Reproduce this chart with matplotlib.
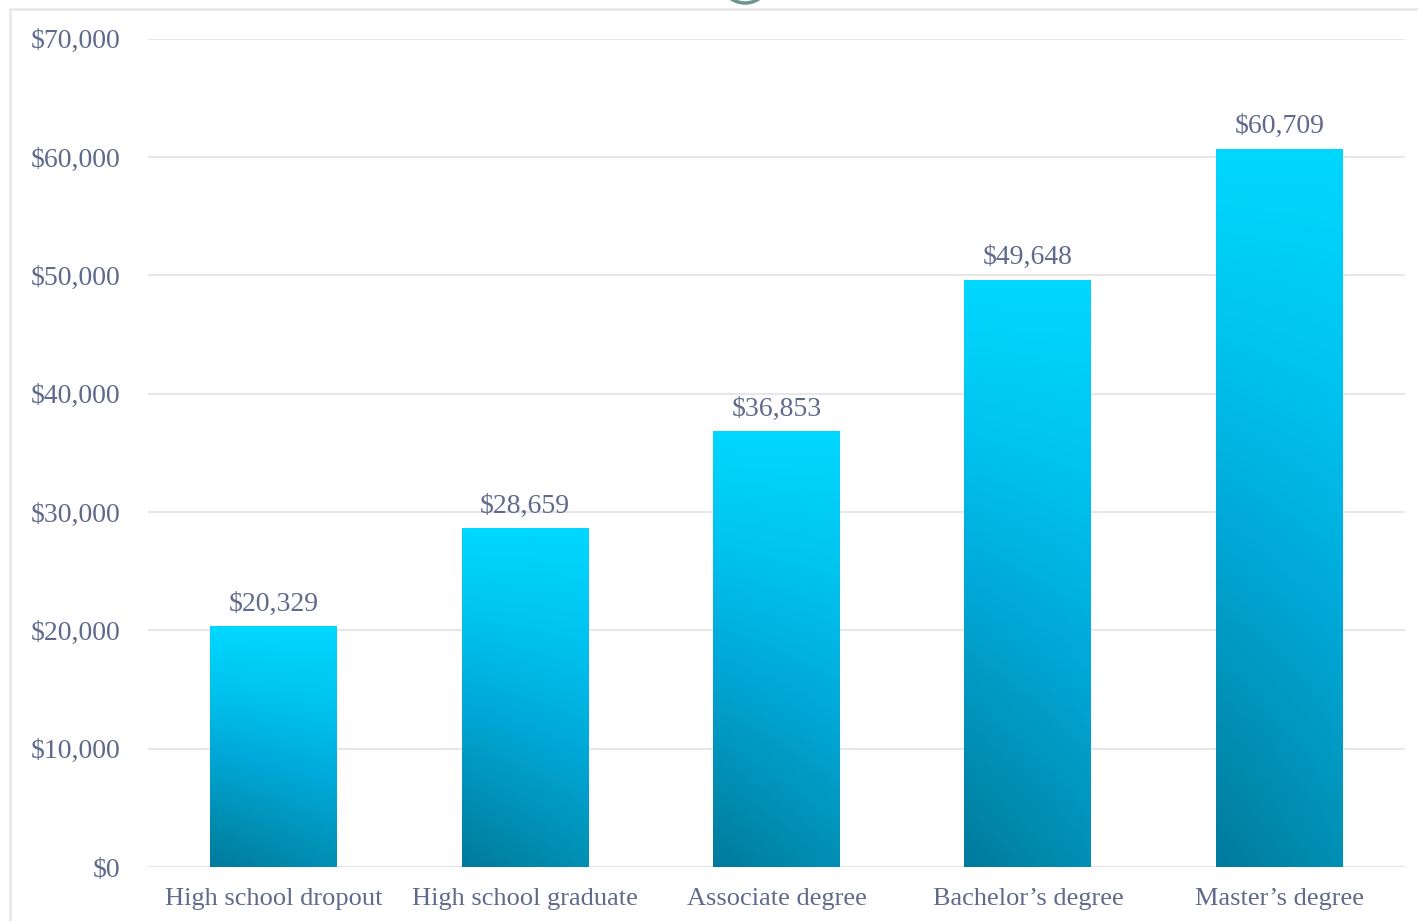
import numpy as np
import matplotlib.pyplot as plt
from matplotlib.colors import LinearSegmentedColormap
from matplotlib.lines import Line2D
from matplotlib.patches import Circle

# ============================================================
# Data
# ============================================================
categories = ['High school dropout', 'High school graduate', 'Associate degree',
              'Bachelor\u2019s degree', 'Master\u2019s degree']
earnings = [20329, 28659, 36853, 49648, 60709]
y_ticks = [0, 10000, 20000, 30000, 40000, 50000, 60000, 70000]

TEXT = '#5f6a8c'
GRID = '#e6e6ec'
plt.rcParams['font.family'] = ['Liberation Serif', 'DejaVu Serif']

grad = LinearSegmentedColormap.from_list(
    'bar', ['#00d8ff', '#00c4f0', '#00aada', '#0092b8', '#007a9c'])

# ============================================================
# Plot
# ============================================================
fig = plt.figure(figsize=(14.18, 9.21), dpi=100)
ax = fig.add_axes([148 / 1418, 54 / 921, 1257 / 1418, 828.3 / 921])

x = np.arange(len(categories))
bars = ax.bar(x, earnings, width=0.505, color='none', zorder=3)

# diagonal gradient fill, clipped to each bar
gy, gx = np.mgrid[0:1:200j, 0:1:60j]
shade = gy * (0.78 + 0.22 * (1 - gx))
for b in bars:
    im = ax.imshow(shade, cmap=grad, vmin=0, vmax=1, aspect='auto',
                   extent=(b.get_x(), b.get_x() + b.get_width(), 0, b.get_height()),
                   origin='upper', zorder=3, interpolation='bilinear')
    im.set_clip_path(b)
    ax.text(b.get_x() + b.get_width() / 2, b.get_height() + 800,
            f'${b.get_height():,.0f}', ha='center', va='bottom',
            fontsize=20, color=TEXT)

ax.set_xlim(-0.5, len(categories) - 0.5)
ax.set_ylim(0, 70000)
ax.set_yticks(y_ticks)
ax.set_yticklabels([f'${v:,}' for v in y_ticks])
ax.set_xticks(x)
ax.set_xticklabels(categories)
ax.tick_params(axis='both', length=0, labelcolor=TEXT)
ax.tick_params(axis='y', pad=20, labelsize=20)
ax.tick_params(axis='x', pad=15, labelsize=19)
ax.grid(axis='y', color=GRID, linewidth=1.5, zorder=0)
ax.set_axisbelow(True)
for s in ax.spines.values():
    s.set_visible(False)

# frame of the surrounding card
fig.add_artist(Line2D([10 / 1418, 10 / 1418], [0, 1 - 9.5 / 921],
                      transform=fig.transFigure, color=GRID, linewidth=1.8))
fig.add_artist(Line2D([10 / 1418, 1], [1 - 9.5 / 921, 1 - 9.5 / 921],
                      transform=fig.transFigure, color=GRID, linewidth=1.8))
# cropped badge at top centre
fig.add_artist(Circle((745, 921 + 22), 25, transform=None, fill=False,
                      edgecolor='#6f9292', linewidth=2.5))

fig.savefig('out.png', dpi=100)
